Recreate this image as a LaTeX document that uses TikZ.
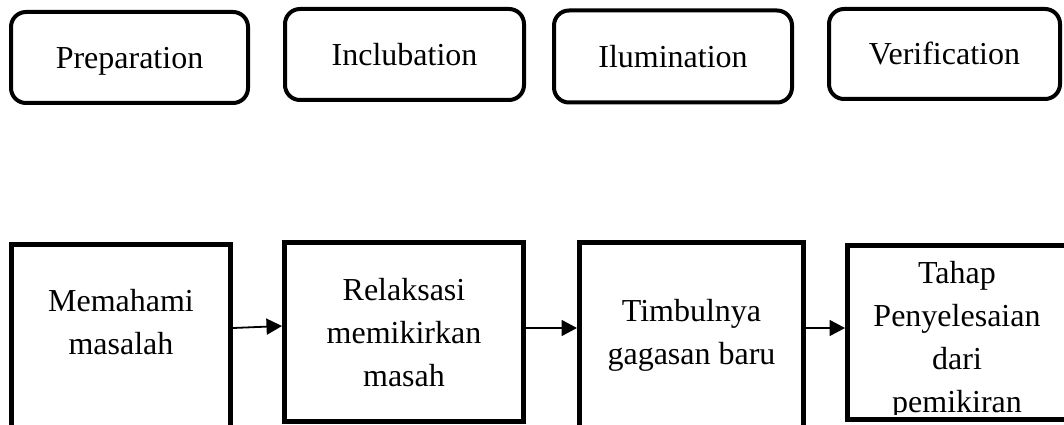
\documentclass[tikz,border=0pt]{standalone}
\usepackage{fontspec}
\setmainfont{Liberation Serif}
\usetikzlibrary{arrows.meta}
\begin{document}
\begin{tikzpicture}[x=1pt,y=-1pt,
  topbox/.style={draw=black, line width=4pt, rounded corners=15pt, inner sep=0pt,
    text height=21.2pt, text depth=0pt, font=\fontsize{32}{43}\selectfont},
  flowbox/.style={draw=black, line width=4.8pt, inner sep=0pt},
  flowtext/.style={anchor=north, align=center, inner sep=0pt, font=\fontsize{32}{43}\selectfont},
  arr/.style={line width=1.8pt, -{Triangle[length=15.5pt,width=16pt]}}]
\useasboundingbox (0,0) rectangle (1064,425);
% top stages
\node[topbox, minimum width=237pt, minimum height=91pt] (prep) at (129.5,57.5) {Preparation};
\node[topbox, minimum width=239pt, minimum height=91pt] (incl) at (404.5,54.5) {Inclubation};
\node[topbox, minimum width=238pt, minimum height=92pt] (ilum) at (673,56.5) {Ilumination};
\node[topbox, minimum width=231pt, minimum height=90pt] (veri) at (944.5,54) {Verification};
% bottom flow boxes
\node[flowbox, minimum width=219.2pt, minimum height=200.5pt] (b5) at (121,344.6) {};
\node[flowbox, minimum width=239.2pt, minimum height=179.2pt] (b6) at (404,332) {};
\node[flowbox, minimum width=224.2pt, minimum height=202.5pt] (b7) at (691.5,343.6) {};
\node[flowbox, minimum width=225.2pt, minimum height=174.2pt] (b8) at (960,332.5) {};
% texts
\node[flowtext] (t5) at (121,289.2) {Memahami\\masalah};
\node[flowtext] (t6) at (404,278.2) {Relaksasi\\memikirkan\\masah};
\node[flowtext] (t7) at (691.5,299.2) {Timbulnya\\gagasan baru};
\begin{scope}
\clip (850,250) rectangle (1064,414);
\node[flowtext] (t8) at (957,261.2) {Tahap\\Penyelesaian\\dari\\pemikiran};
\end{scope}
% arrows
\draw[arr] ([yshift=16.6pt]b5.east) -- ([yshift=6pt]b6.west);
\draw[arr] ([yshift=4pt]b6.east) -- ([yshift=15.6pt]b7.west);
\draw[arr] ([yshift=15.6pt]b7.east) -- ([yshift=4.5pt]b8.west);
\end{tikzpicture}
\end{document}
